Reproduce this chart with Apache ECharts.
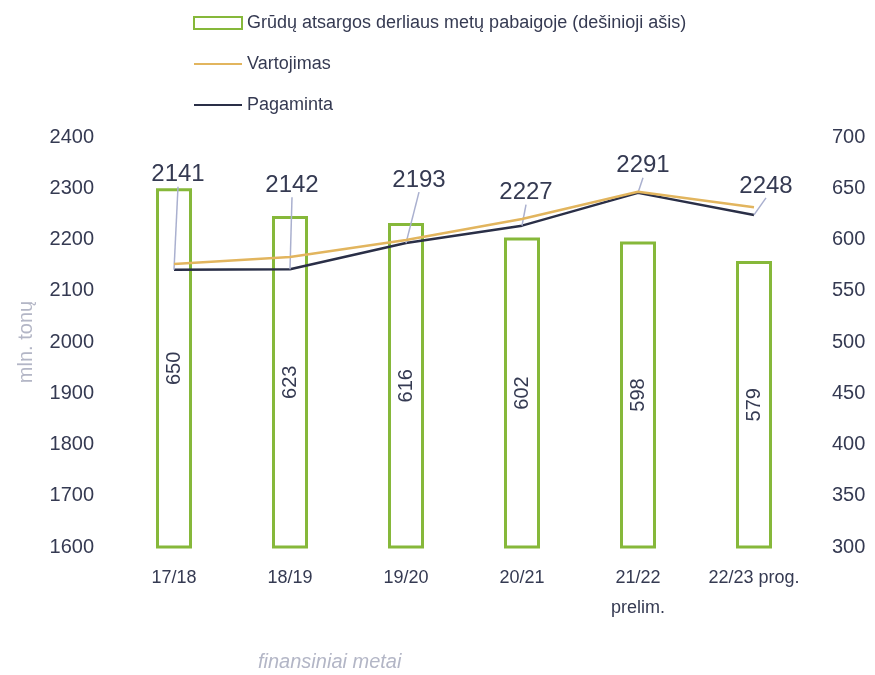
<!DOCTYPE html>
<html><head><meta charset="utf-8">
<script src="https://cdn.jsdelivr.net/npm/echarts@6/dist/echarts.min.js"></script>
<style>html,body{margin:0;padding:0;background:#fff}#c{width:875px;height:675px}</style>
</head><body><div id="c"></div>
<script>
const categories = ['17/18', '18/19', '19/20', '20/21', '21/22\nprelim.', '22/23 prog.'];
const stocks = [650, 623, 616, 602, 598, 579];
const consumption = [2152, 2166, 2199, 2240, 2293, 2263];
const production = [2141, 2142, 2193, 2227, 2291, 2248];
const leftTicks = {min: 1600, max: 2400, interval: 100};
const rightTicks = {min: 300, max: 700, interval: 50};
const nameStocks = 'Grūdų atsargos derliaus metų pabaigoje (dešinioji ašis)';
const nameCons = 'Vartojimas';
const nameProd = 'Pagaminta';
// label displacement (style only)
const labelShift = [[4,-78],[2,-67],[13,-46],[4,-16],[5,-10],[12,-12]];

const FONT = 'Liberation Sans';
const TXT = '#353a52';
const chart = echarts.init(document.getElementById('c'));
chart.setOption({
  animation: false,
  textStyle: {fontFamily: FONT},
  grid: {left: 116, right: 63, top: 137, bottom: 128},
  legend: {
    orient: 'vertical', left: 188, top: 9, itemGap: 23,
    itemWidth: 48, itemHeight: 12,
    textStyle: {fontSize: 18, color: TXT, fontFamily: FONT},
    data: [
      {name: nameStocks, icon: 'rect'},
      {name: nameCons, itemStyle: {opacity: 0}},
      {name: nameProd, itemStyle: {opacity: 0}}
    ]
  },
  xAxis: {
    type: 'category', data: categories,
    axisLine: {show: false}, axisTick: {show: false},
    axisLabel: {fontSize: 18, color: TXT, margin: 16, lineHeight: 30, interval: 0}
  },
  yAxis: [{
    type: 'value', min: leftTicks.min, max: leftTicks.max, interval: leftTicks.interval,
    splitLine: {show: false},
    axisLabel: {fontSize: 20, color: TXT, margin: 22, formatter: v => String(v)},
    name: 'mln. tonų', nameLocation: 'middle', nameGap: 80,
    nameTextStyle: {fontSize: 20, color: '#b3b6c6'}
  }, {
    type: 'value', min: rightTicks.min, max: rightTicks.max, interval: rightTicks.interval,
    splitLine: {show: false},
    axisLabel: {fontSize: 20, color: TXT, margin: 20, formatter: v => String(v)}
  }],
  graphic: [{
    type: 'text', left: 258, top: 652,
    style: {text: 'finansiniai metai', fontSize: 20, fontStyle: 'italic', fill: '#b3b6c6', fontFamily: FONT}
  }],
  series: [{
    name: nameStocks, type: 'bar', yAxisIndex: 1, data: stocks, barWidth: 36,
    itemStyle: {color: '#ffffff', borderColor: '#86b83a', borderWidth: 3},
    label: {show: true, position: 'inside', rotate: 90, fontSize: 20, color: TXT}
  }, {
    name: nameProd, type: 'line', data: production, z: 3,
    symbol: 'circle', symbolSize: 0.01, showSymbol: true,
    lineStyle: {color: '#2a2f47', width: 2.5}, itemStyle: {color: '#2a2f47'},
    label: {show: true, position: 'top', fontSize: 24, color: TXT, distance: 5},
    labelLine: {show: true, lineStyle: {color: '#aab0cf', width: 1.5}},
    labelLayout: function (p) {
      const s = labelShift[p.dataIndex];
      return {dx: s[0], dy: s[1]};
    }
  }, {
    name: nameCons, type: 'line', data: consumption, z: 4,
    symbol: 'none', showSymbol: false,
    lineStyle: {color: '#e2b55e', width: 2.5}, itemStyle: {color: '#e2b55e'}
  }]
});
</script></body></html>
